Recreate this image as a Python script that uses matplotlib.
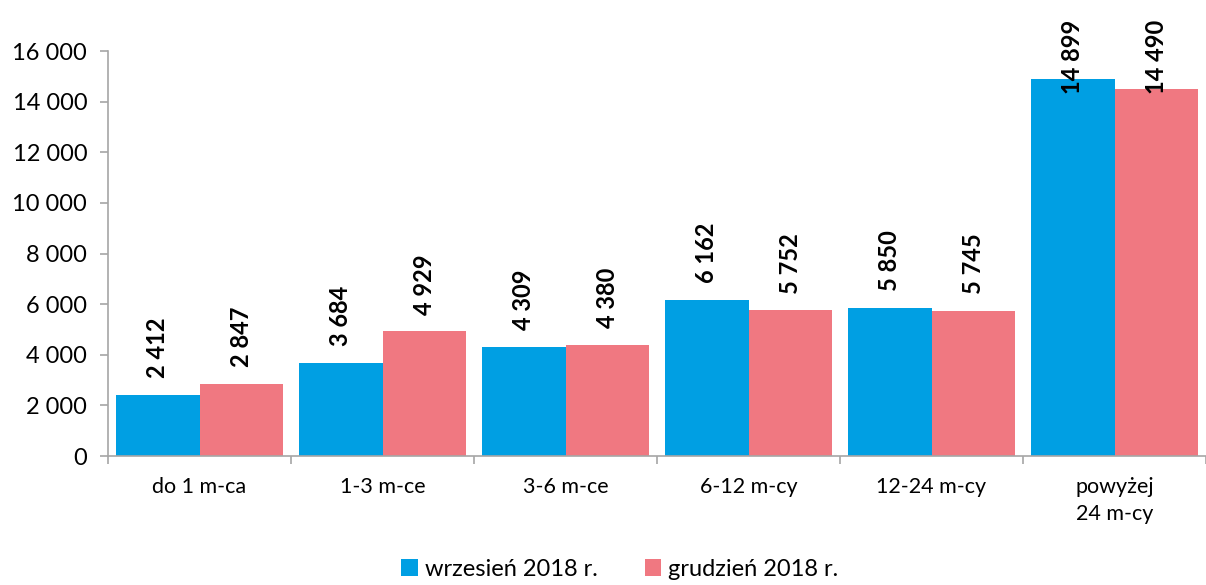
import numpy as np
import matplotlib.pyplot as plt
from matplotlib.ticker import FuncFormatter, FixedLocator

# categories and values
categories = ['do 1 m-ca', '1-3 m-ce', '3-6 m-ce', '6-12 m-cy', '12-24 m-cy', 'powyżej\n24 m-cy']
wrzesien = [2412, 3684, 4309, 6162, 5850, 14899]
grudzien = [2847, 4929, 4380, 5752, 5745, 14490]
series_names = ['wrzesień 2018 r.', 'grudzień 2018 r.']

blue = '#009fe3'
pink = '#f07881'
grey = '#a6a6a6'

plt.rcParams['font.family'] = ['Lato', 'DejaVu Sans']

fig = plt.figure(figsize=[12.06, 5.85], dpi=100)
ax = fig.add_axes([0.0896, 0.2205, 0.9104, 0.6923])

x = np.arange(len(categories))
w = 0.455
b1 = ax.bar(x - w/2, wrzesien, w, color=blue, label=series_names[0])
b2 = ax.bar(x + w/2, grudzien, w, color=pink, label=series_names[1])

ax.set_ylim(0, 16000)
ax.set_xlim(-0.5, len(categories) - 0.5)
ax.set_yticks(np.arange(0, 16001, 2000))
ax.yaxis.set_major_formatter(FuncFormatter(lambda v, p: f'{int(v):,}'.replace(',', ' ')))

ax.set_xticks(x)
ax.set_xticklabels(categories, linespacing=1.45)
ax.xaxis.set_minor_locator(FixedLocator(np.arange(-0.5, len(categories), 1.0)))
ax.tick_params(axis='x', which='major', length=0, pad=15, labelsize=15.5)
ax.tick_params(axis='x', which='minor', length=6, color=grey, width=1.2)
ax.tick_params(axis='y', length=6, color=grey, width=1.2, labelsize=17, pad=9)

for s in ['top', 'right']:
    ax.spines[s].set_visible(False)
for s in ['left', 'bottom']:
    ax.spines[s].set_color(grey)
    ax.spines[s].set_linewidth(1.2)

# value labels; the tallest ones are pinned to the top of the chart area
top_limit = 17250
for bars, vals in [(b1, wrzesien), (b2, grudzien)]:
    for r, v in zip(bars, vals):
        txt = f'{v:,}'.replace(',', ' ')
        cx = r.get_x() + r.get_width() / 2
        if v > 12000:
            ax.text(cx, top_limit, txt, rotation=90, ha='center', va='top',
                    fontsize=17, fontweight='bold', clip_on=False)
        else:
            ax.annotate(txt, (cx, v), xytext=(0, 12), textcoords='offset points',
                        rotation=90, ha='center', va='bottom',
                        fontsize=17, fontweight='bold')

fig.legend(loc='lower center', bbox_to_anchor=(0.514, -0.027), ncol=2, frameon=False,
           fontsize=17, handlelength=0.7, handleheight=0.7, handletextpad=0.3,
           columnspacing=2.0)

fig.savefig('out.png', dpi=100)
